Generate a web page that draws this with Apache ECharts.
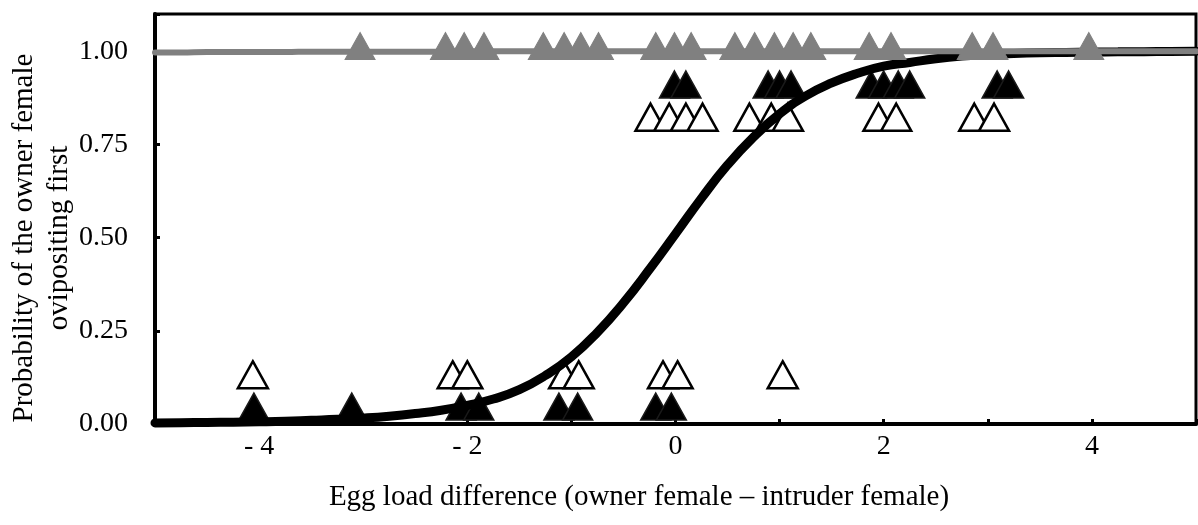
<!DOCTYPE html>
<html>
<head>
<meta charset="utf-8">
<script src="https://cdn.jsdelivr.net/npm/echarts@6/dist/echarts.min.js"></script>
<style>
  html, body { margin: 0; padding: 0; background: #fff; }
  #chart { width: 1198px; height: 525px; }
</style>
</head>
<body>
<div id="chart"></div>
<script>
// Observations: x = egg load difference, y = offset row for each outcome group
const ownerFirstGrayX = [-3.03, -2.21, -2.03, -1.84, -1.27, -1.07, -0.91, -0.74, -0.19, -0.01, 0.15,
  0.57, 0.76, 0.95, 1.13, 1.30, 1.86, 2.07, 2.85, 3.05, 3.97];
const ownerFirstGrayY = 1.014;

const ownerFirstBlackX = [-0.01, 0.10, 0.89, 1.00, 1.11, 1.88, 2.00, 2.14, 2.25, 3.09, 3.20];
const ownerFirstBlackY = 0.911;

const ownerFirstOpenX = [-0.24, -0.06, 0.10, 0.26, 0.71, 0.92, 1.08, 1.95, 2.12, 2.87, 3.06];
const ownerFirstOpenY = 0.823;

const intruderFirstOpenX = [-4.06, -2.14, -2.00, -1.07, -0.93, -0.12, 0.02, 1.03];
const intruderFirstOpenY = 0.132;

const intruderFirstBlackX = [-4.05, -3.11, -2.06, -1.89, -1.12, -0.94, -0.19, -0.04];
const intruderFirstBlackY = 0.047;

// Fitted curves, sampled every 0.25 along the x range
const curveX = [-5, -4.75, -4.5, -4.25, -4, -3.75, -3.5, -3.25, -3, -2.75, -2.5, -2.25, -2, -1.75, -1.5,
  -1.25, -1, -0.75, -0.5, -0.25, 0, 0.25, 0.5, 0.75, 1, 1.25, 1.5, 1.75, 2, 2.25, 2.5, 2.75, 3,
  3.25, 3.5, 3.75, 4, 4.25, 4.5, 4.75, 5];
const blackCurveY = [0.003, 0.0035, 0.004, 0.005, 0.006, 0.0075, 0.010, 0.0125, 0.016, 0.021, 0.028,
  0.037, 0.050, 0.067, 0.092, 0.130, 0.180, 0.246, 0.325, 0.415, 0.51, 0.606, 0.695, 0.770, 0.832,
  0.880, 0.915, 0.941, 0.960, 0.970, 0.980, 0.987, 0.991, 0.994, 0.996, 0.997, 0.998, 0.9985,
  0.999, 0.9995, 1.0];
const grayCurveY = [0.997, 0.997, 0.998, 0.998, 0.998, 0.998, 0.999, 0.999, 0.999, 0.999, 0.999,
  0.999, 1.0, 1.0, 1.0, 1.0, 1.0, 1.0, 1.0, 1.0, 1.0, 1.0, 1.0, 1.0, 1.0, 1.0, 1.0, 1.0, 1.0,
  1.0, 1.0, 1.0, 1.0, 1.0, 1.0, 1.0, 1.0, 1.0, 1.0, 1.0, 1.0];

const xTickLabels = { '-4': '- 4', '-2': '- 2', '0': '0', '2': '2', '4': '4' };
const yTickValues = [0, 0.25, 0.5, 0.75, 1.0];
const xTitle = 'Egg load difference (owner female \u2013 intruder female)';
const yTitleLines = ['Probability of the owner female', 'ovipositing first'];

const FONT = '"Liberation Serif", "DejaVu Serif", serif';

function pts(xs, y) { return xs.map(x => [x, y]); }
function curve(xs, ys) { return xs.map((x, i) => [x, ys[i]]); }

const triSize = [30, 27];

function titleText(text, x, y, rotation) {
  return {
    type: 'text', x: x, y: y, rotation: rotation, silent: true,
    style: {
      text: text, fontFamily: FONT, fontSize: 29, fill: '#000',
      align: 'center', verticalAlign: 'middle'
    }
  };
}

const chart = echarts.init(document.getElementById('chart'), null, { renderer: 'canvas' });
chart.setOption({
  backgroundColor: '#fff',
  animation: false,
  grid: {
    left: 155, right: 2, top: 14, bottom: 101,
    outerBoundsMode: 'none', containLabel: false,
    show: true, borderColor: '#000', borderWidth: 3, backgroundColor: 'transparent'
  },
  graphic: [
    titleText(xTitle, 639, 497, 0),
    titleText(yTitleLines[0], 24, 238, Math.PI / 2),
    titleText(yTitleLines[1], 59, 238, Math.PI / 2)
  ],
  xAxis: {
    type: 'value', min: -5, max: 5, interval: 1,
    axisLine: { onZero: false, lineStyle: { color: '#000', width: 4 } },
    axisTick: { inside: true, length: 5, lineStyle: { color: '#000', width: 3 } },
    axisLabel: {
      margin: 9, fontFamily: FONT, fontSize: 28, color: '#000',
      formatter: v => (xTickLabels[String(v)] !== undefined ? xTickLabels[String(v)] : '')
    },
    splitLine: { show: false }
  },
  yAxis: {
    type: 'value', min: 0, max: 1.1, interval: 0.25,
    axisLine: { onZero: false, lineStyle: { color: '#000', width: 4 } },
    axisTick: { inside: true, length: 5, lineStyle: { color: '#000', width: 3 } },
    axisLabel: {
      margin: 27, fontFamily: FONT, fontSize: 28, color: '#000',
      formatter: v => (yTickValues.some(t => Math.abs(t - v) < 1e-6) ? v.toFixed(2) : '')
    },
    splitLine: { show: false }
  },
  series: [
    {
      name: 'intruder open', type: 'scatter', z: 2, symbol: 'triangle', symbolSize: triSize,
      itemStyle: { color: '#fff', borderColor: '#000', borderWidth: 2.5, opacity: 1 },
      data: pts(intruderFirstOpenX, intruderFirstOpenY)
    },
    {
      name: 'owner open', type: 'scatter', z: 2, symbol: 'triangle', symbolSize: triSize,
      itemStyle: { color: '#fff', borderColor: '#000', borderWidth: 2.5, opacity: 1 },
      data: pts(ownerFirstOpenX, ownerFirstOpenY)
    },
    {
      name: 'intruder black', type: 'scatter', z: 3, symbol: 'triangle', symbolSize: triSize,
      itemStyle: { color: '#000', borderColor: '#1a1a1a', borderWidth: 1.5, opacity: 1 },
      data: pts(intruderFirstBlackX, intruderFirstBlackY)
    },
    {
      name: 'owner black', type: 'scatter', z: 3, symbol: 'triangle', symbolSize: triSize,
      itemStyle: { color: '#000', borderColor: '#1a1a1a', borderWidth: 1.5, opacity: 1 },
      data: pts(ownerFirstBlackX, ownerFirstBlackY)
    },
    {
      name: 'fit black', type: 'line', z: 4, showSymbol: false, smooth: true,
      lineStyle: { color: '#000', width: 9, cap: 'round' },
      data: curve(curveX, blackCurveY)
    },
    {
      name: 'fit gray', type: 'line', z: 5, showSymbol: false, smooth: true,
      lineStyle: { color: '#808080', width: 6, cap: 'round' },
      data: curve(curveX, grayCurveY)
    },
    {
      name: 'owner gray', type: 'scatter', z: 6, symbol: 'triangle', symbolSize: triSize,
      itemStyle: { color: '#808080', borderColor: '#808080', borderWidth: 1, opacity: 1 },
      data: pts(ownerFirstGrayX, ownerFirstGrayY)
    }
  ]
});
</script>
</body>
</html>
